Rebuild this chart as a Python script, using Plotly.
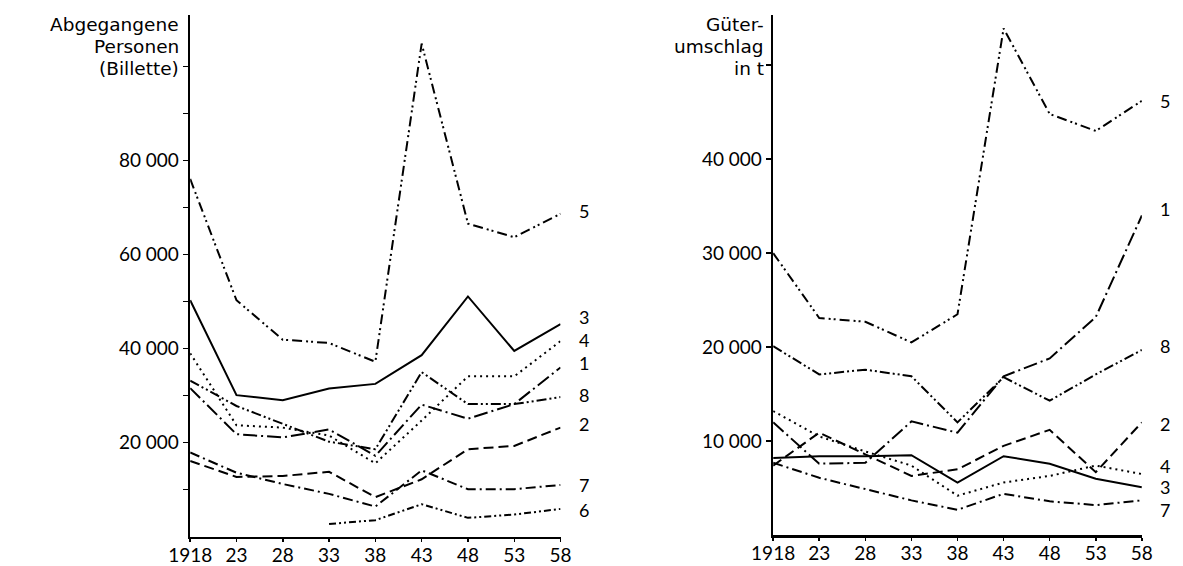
import plotly.graph_objects as go

years = [1918, 1923, 1928, 1933, 1938, 1943, 1948, 1953, 1958]
year_labels = ["1918", "23", "28", "33", "38", "43", "48", "53", "58"]

# Left panel: Abgegangene Personen (Billette)
p1 = [31600, 21800, 21100, 22800, 17200, 28100, 25100, 28200, 36000]
p2 = [16100, 12700, 12900, 13800, 8400, 12200, 18600, 19300, 23200]
p3 = [50300, 30100, 29000, 31500, 32500, 38600, 51100, 39500, 45200]
p4 = [39000, 23700, 23200, 21500, 15600, 24700, 34100, 34100, 41600]
p5 = [76100, 50300, 41900, 41200, 37200, 104900, 66600, 63700, 68700]
p6 = [None, None, None, 2700, 3500, 6900, 4000, 4700, 5900]
p7 = [17900, 13600, 11200, 9100, 6400, 14100, 10100, 10100, 11000]
p8 = [33200, 27800, 24000, 20200, 18600, 35000, 28200, 28200, 29700]

# Right panel: Güterumschlag in t
g1 = [12000, 7600, 7700, 12100, 10900, 16900, 18800, 23200, 34000]
g2 = [7400, 10900, 8600, 6300, 7000, 9500, 11200, 6700, 12000]
g3 = [8200, 8400, 8400, 8500, 5600, 8400, 7600, 6000, 5100]
g4 = [13200, 10500, 8900, 7400, 4200, 5600, 6300, 7400, 6500]
g5 = [30000, 23100, 22700, 20500, 23500, 53900, 44800, 43000, 46200]
g7 = [7700, 6100, 4900, 3700, 2700, 4400, 3600, 3200, 3700]
g8 = [20100, 17100, 17600, 16900, 12000, 16800, 14300, 17100, 19700]

left_ticks = [10000, 20000, 30000, 40000, 50000, 60000, 70000, 80000, 90000, 100000]
left_ticktext = ["", "20 000", "", "40 000", "", "60 000", "", "80 000", "", ""]
right_ticks = [10000, 20000, 30000, 40000, 50000]
right_ticktext = ["10 000", "20 000", "30 000", "40 000", ""]

left_title = ["Abgegangene", "Personen", "(Billette)"]
right_title = ["Güter-", "umschlag", "in t"]

styles = {
    "1": "14px,4px,2px,4px",
    "2": "10px,5px",
    "3": "solid",
    "4": "2px,4px",
    "5": "10px,4px,2px,3px,2px,4px",
    "6": "7px,3px,2px,3px,2px,3px",
    "7": "10px,4px,2px,4px",
    "8": "10px,3px,2px,3px,2px,3px",
}

left_series = {"1": p1, "2": p2, "3": p3, "4": p4, "5": p5, "6": p6, "7": p7, "8": p8}
right_series = {"1": g1, "2": g2, "3": g3, "4": g4, "5": g5, "7": g7, "8": g8}

left_label_shift = {"1": 4, "2": 4, "3": 7, "4": 1, "5": 3, "6": -1, "7": 0, "8": 2}
right_label_shift = {"1": 7, "2": -2, "3": 0, "4": 8, "5": 0, "7": -10, "8": 4}

FONT = "Lato"
TITLE_FONT = "DejaVu Sans"
fig = go.Figure()

for name, vals in left_series.items():
    fig.add_trace(go.Scatter(x=years, y=vals, mode="lines", xaxis="x", yaxis="y",
                             line=dict(color="black", width=2, dash=styles[name]),
                             showlegend=False, hoverinfo="skip"))
for name, vals in right_series.items():
    fig.add_trace(go.Scatter(x=years, y=vals, mode="lines", xaxis="x2", yaxis="y2",
                             line=dict(color="black", width=2, dash=styles[name]),
                             showlegend=False, hoverinfo="skip"))

ann = []
for name, vals in left_series.items():
    ann.append(dict(x=years[-1], y=vals[-1], xref="x", yref="y", text=name,
                    showarrow=False, xshift=23, yshift=left_label_shift[name],
                    font=dict(family=FONT, size=18, color="black")))
for name, vals in right_series.items():
    ann.append(dict(x=years[-1], y=vals[-1], xref="x2", yref="y2", text=name,
                    showarrow=False, xshift=23, yshift=right_label_shift[name],
                    font=dict(family=FONT, size=18, color="black")))

title_y = [25, 47, 69]
for txt, yy in zip(left_title, title_y):
    ann.append(dict(x=164 / 1183, y=1 - yy / 566, xref="paper", yref="paper",
                    text=txt, showarrow=False, xanchor="right", yanchor="middle",
                    font=dict(family=TITLE_FONT, size=18.5, color="black")))
for txt, yy in zip(right_title, title_y):
    ann.append(dict(x=765 / 1183, y=1 - yy / 566, xref="paper", yref="paper",
                    text=txt, showarrow=False, xanchor="right", yanchor="middle",
                    font=dict(family=TITLE_FONT, size=18.5, color="black")))

axis_common = dict(showgrid=False, zeroline=False, showline=True, linecolor="black",
                   linewidth=2.5, ticks="outside", tickcolor="black", tickwidth=1.5,
                   fixedrange=True)
xfont = dict(family=FONT, size=19, color="black")
yfont = dict(family=FONT, size=19, color="black")

fig.update_layout(
    width=1183, height=566,
    margin=dict(l=0, r=0, t=0, b=0),
    paper_bgcolor="white", plot_bgcolor="white",
    annotations=ann,
    xaxis=dict(domain=[173 / 1183, 554 / 1183], range=[1918, 1958], anchor="y",
               tickvals=years, ticktext=year_labels, ticklen=3, tickfont=xfont,
               ticklabelstandoff=-3, **axis_common),
    yaxis=dict(domain=[26.5 / 566, 551 / 566], range=[0, 111000], anchor="x",
               tickvals=left_ticks, ticktext=left_ticktext, ticklen=5, tickfont=yfont,
               **axis_common),
    xaxis2=dict(domain=[772.7 / 1183, 1152 / 1183], range=[1918, 1958], anchor="y2",
                tickvals=years, ticktext=year_labels, ticklen=3, tickfont=xfont,
                ticklabelstandoff=-3, **axis_common),
    yaxis2=dict(domain=[28 / 566, 551 / 566], range=[0, 55340], anchor="x2",
                tickvals=right_ticks, ticktext=right_ticktext, ticklen=5, tickfont=yfont,
                **axis_common),
)

fig.write_html("out.html",
               config={"displayModeBar": False, "staticPlot": True},
               post_script="document.body.style.margin='0px';document.body.style.overflow='hidden';")
